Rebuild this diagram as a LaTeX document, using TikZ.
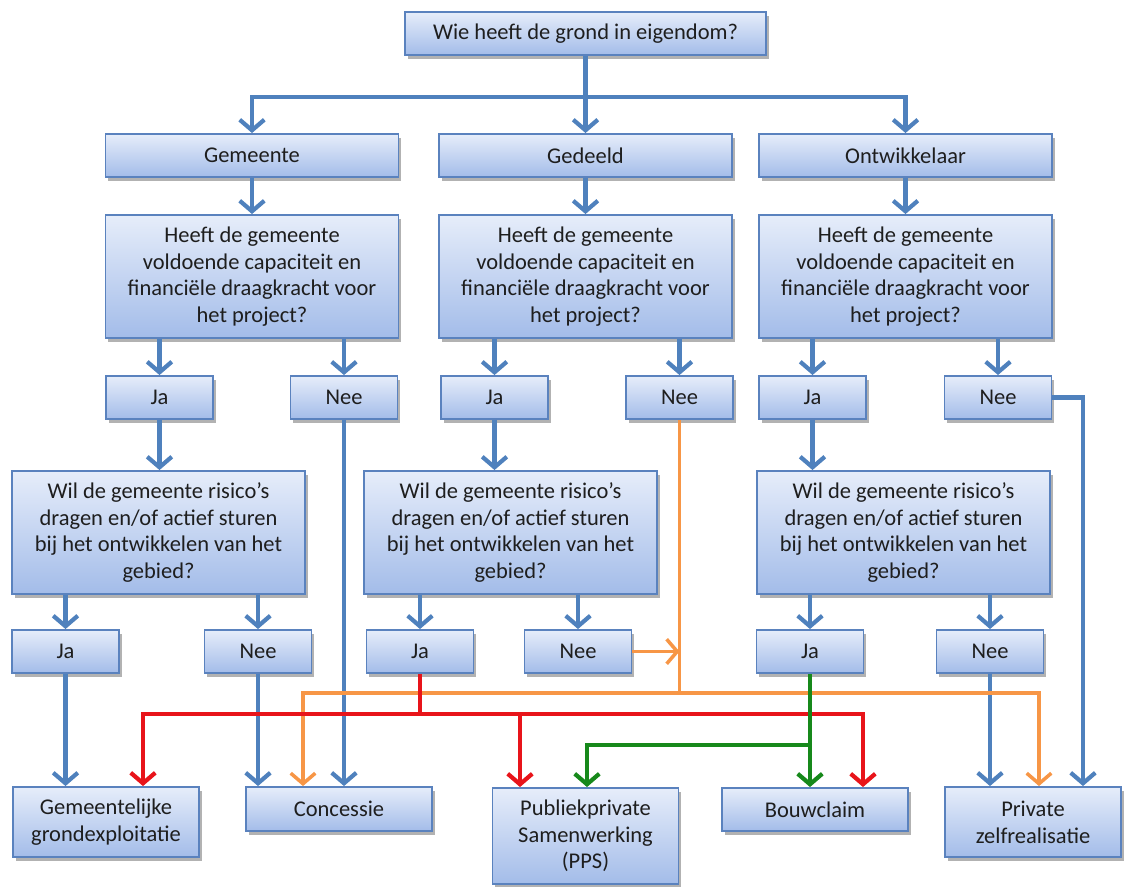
\documentclass[tikz,border=0pt]{standalone}
\usepackage{fontspec}
\setmainfont{Carlito}
\usepackage{tikz}
\usetikzlibrary{arrows.meta,shadows}
\usepackage{xcolor}
\definecolor{boxtop}{HTML}{E6EDFA}
\definecolor{boxbot}{HTML}{A3BCE9}
\definecolor{boxrand}{HTML}{5A82BE}
\definecolor{tekst}{HTML}{1E1E1E}
\definecolor{blauw}{HTML}{4F81BD}
\definecolor{oranje}{HTML}{F79646}
\definecolor{rood}{HTML}{E8141A}
\definecolor{groen}{HTML}{17891B}

\begin{document}
\begin{tikzpicture}[x=0.02cm,y=-0.02cm,
		box/.style={draw=boxrand,line width=1.1pt,top color=boxtop,bottom color=boxbot,
			drop shadow={shadow xshift=1.5pt,shadow yshift=-2pt,opacity=0.3,fill=black},
			align=center,inner sep=0pt,text=tekst,font=\fontsize{12.8}{15.2}\selectfont},
		kop/.style={box,minimum width=5.86cm,minimum height=0.86cm},
		vraag/.style={box,minimum width=5.86cm,minimum height=2.46cm},
		antw/.style={box,minimum width=2.14cm,minimum height=0.86cm},
		uitk/.style={box,minimum width=3.72cm},
		lijn/.style={line width=2.4pt,blauw},
		pijl/.style={lijn,-{Straight Barb[length=6pt,width=14pt]}},
		olijn/.style={line width=2pt,oranje},
		opijl/.style={olijn,-{Straight Barb[length=6pt,width=14pt]}},
		rpijl/.style={line width=2.4pt,rood,-{Straight Barb[length=6pt,width=14pt]}},
		gpijl/.style={line width=2.4pt,groen,-{Straight Barb[length=6pt,width=14pt]}}]
			\useasboundingbox (0,0) rectangle (1125,886);

			\node[box,minimum width=7.22cm,minimum height=0.86cm] (wie) at (585.5,33.5) {Wie heeft de grond in eigendom?};
			\node[kop] (eigg) at (252,155.5) {Gemeente};
			\node[kop] (eigd) at (585.5,155.5) {Gedeeld};
			\node[kop] (eigo) at (905.5,155.5) {Ontwikkelaar};

			\foreach \n/\x/\xj/\xn in {g/252/159.5/344, d/585.5/494.5/679.5, o/905.5/812.5/998} {
				\node[vraag] (cap\n) at (\x,276.5) {Heeft de gemeente\\voldoende capaciteit en\\financiële draagkracht voor\\het project?};
				\node[antw] (ja\n) at (\xj,397.5) {Ja};
				\node[antw] (nee\n) at (\xn,397.5) {Nee};
			}
			\foreach \n/\x/\xj/\xn in {g/158.5/65.5/258, d/510.5/420/578, o/903.5/810/990} {
				\node[vraag] (ris\n) at (\x,532.5) {Wil de gemeente risico’s\\dragen en/of actief sturen\\bij het ontwikkelen van het\\gebied?};
				\node[antw] (rja\n) at (\xj,651.5) {Ja};
				\node[antw] (rnee\n) at (\xn,651.5) {Nee};
			}

			\node[uitk,minimum height=1.4cm] (gemgr) at (106,822) {Gemeentelijke\\grondexploitatie};
			\node[uitk,minimum height=0.88cm] (conc) at (339,809) {Concessie};
			\node[uitk,minimum height=1.92cm] (pps) at (585.5,836) {Publiekprivate\\Samenwerking\\(PPS)};
			\node[uitk,minimum height=0.86cm] (bouw) at (815,809.5) {Bouwclaim};
			\node[box,minimum width=3.52cm,minimum height=1.4cm] (priv) at (1033,822) {Private\\zelfrealisatie};

			\coordinate (split) at (585.5,97);
			\draw[lijn] (wie) -- (split);
			\draw[pijl] (split) -| (eigg);
			\draw[pijl] (split) -- (eigd);
			\draw[pijl] (split) -| (eigo);
			\foreach \n in {g,d,o} {
				\draw[pijl] (eig\n) -- (cap\n);
				\draw[pijl] (cap\n.south -| ja\n) -- (ja\n);
				\draw[pijl] (cap\n.south -| nee\n) -- (nee\n);
				\draw[pijl] (ja\n) -- (ja\n |- ris\n.north);
				\draw[pijl] (ris\n.south -| rja\n) -- (rja\n);
				\draw[pijl] (ris\n.south -| rnee\n) -- (rnee\n);
			}
			\draw[pijl] (rjag) -- (rjag |- gemgr.north);
			\draw[pijl] (rneeg) -- (rneeg |- conc.north);
			\draw[pijl] (neeg) -- (neeg |- conc.north);
			\draw[pijl] (rneeo) -- (rneeo |- priv.north);
			\coordinate (hoek) at (1083,397.5);
			\draw[pijl] (neeo) -- (hoek) -- (hoek |- priv.north);

			\coordinate (oknoop) at (679.5,693);
			\coordinate (olinks) at (303,693);
			\coordinate (orechts) at (1039,693);
			\draw[olijn] (need) -- (oknoop);
			\draw[opijl] (rneed) -- (rneed -| oknoop);
			\draw[opijl] (oknoop) -- (olinks) -- (olinks |- conc.north);
			\draw[opijl] (oknoop) -- (orechts) -- (orechts |- priv.north);

			\coordinate (rknoop) at (420,714);
			\coordinate (rlinks) at (143,714);
			\coordinate (rmidden) at (520,714);
			\coordinate (rrechts) at (863,714);
			\draw[line width=2.4pt,rood] (rjad) -- (rknoop);
			\draw[rpijl] (rknoop) -- (rlinks) -- (rlinks |- gemgr.north);
			\draw[rpijl] (rknoop) -- (rrechts) -- (rrechts |- bouw.north);
			\draw[rpijl] (rmidden) -- (rmidden |- pps.north);

			\coordinate (gknoop) at (810,745);
			\coordinate (glinks) at (587,745);
			\draw[gpijl] (rjao) -- (rjao |- bouw.north);
			\draw[gpijl] (gknoop) -- (glinks) -- (glinks |- pps.north);
\end{tikzpicture}
\end{document}
